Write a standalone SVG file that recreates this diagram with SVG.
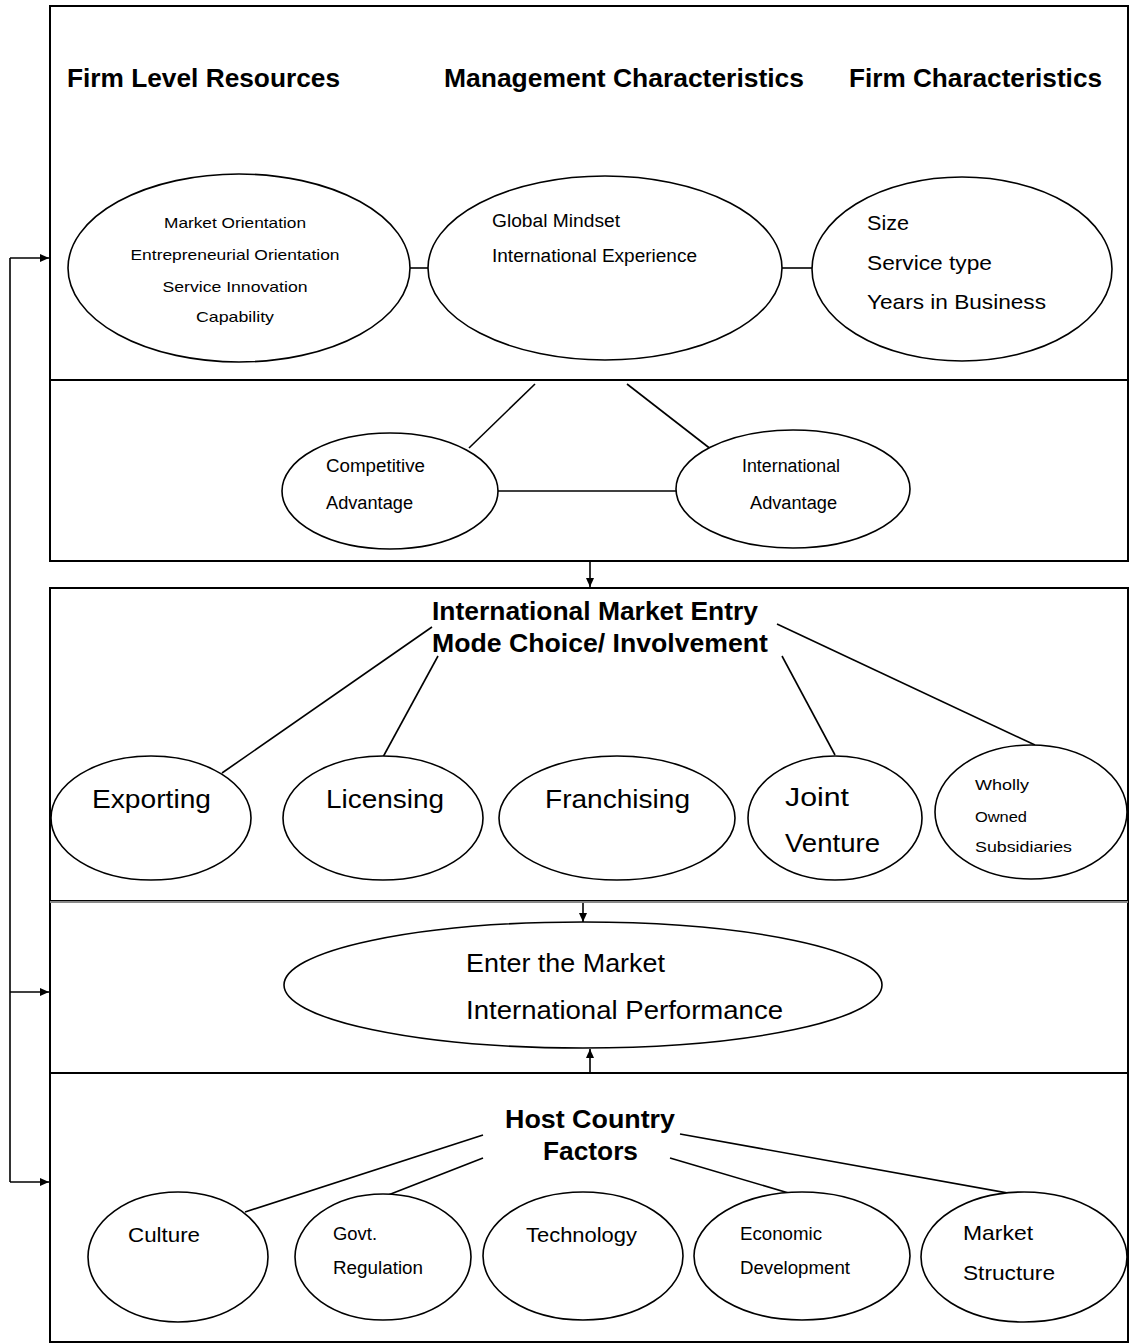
<svg xmlns="http://www.w3.org/2000/svg" width="1131" height="1344" viewBox="0 0 1131 1344">
<style>
.box{fill:none;stroke:#000;stroke-width:2}
.ell{fill:#fff;stroke:#000;stroke-width:1.6}
.ln{stroke:#000;stroke-width:1.6;fill:none}
text{font-family:"Liberation Sans",Arial,sans-serif;fill:#000}
.h{font-weight:bold;font-size:25px}
.s{font-size:15px}
.m{font-size:18px}
.l{font-size:21px}
.xl{font-size:26px}
</style>
<defs>
<marker id="ah" markerWidth="10" markerHeight="10" refX="9" refY="5" orient="auto" markerUnits="userSpaceOnUse">
<path d="M0,1 L9,5 L0,9 Z" fill="#000"/>
</marker>
</defs>
<rect width="1131" height="1344" fill="#fff"/>
<g id="panels">
<rect class="box" x="50" y="6" width="1078" height="374"/>
<rect class="box" x="50" y="380" width="1078" height="181"/>
<rect class="box" x="50" y="588" width="1078" height="313"/>
<rect class="box" x="50" y="901" width="1078" height="172"/>
<rect class="box" x="50" y="1073" width="1078" height="269"/>
<line x1="50" y1="902" x2="1128" y2="902" stroke="#888" stroke-width="2"/>
</g>
<g id="connectors">
<polyline class="ln" points="10,1182 10,258"/>
<line class="ln" x1="10" y1="258" x2="49" y2="258" marker-end="url(#ah)"/>
<line class="ln" x1="10" y1="992" x2="49" y2="992" marker-end="url(#ah)"/>
<line class="ln" x1="10" y1="1182" x2="49" y2="1182" marker-end="url(#ah)"/>
<line class="ln" x1="410" y1="268" x2="428" y2="268"/>
<line class="ln" x1="782" y1="268" x2="812" y2="268"/>
<line class="ln" x1="535" y1="384" x2="469" y2="448"/>
<line class="ln" x1="627" y1="384" x2="712" y2="450"/>
<line class="ln" x1="498" y1="491" x2="676" y2="491"/>
<line class="ln" x1="590" y1="561" x2="590" y2="587" marker-end="url(#ah)"/>
<line class="ln" x1="432" y1="627" x2="222" y2="773"/>
<line class="ln" x1="438" y1="656" x2="383" y2="757"/>
<line class="ln" x1="782" y1="656" x2="835" y2="755"/>
<line class="ln" x1="777" y1="624" x2="1035" y2="745"/>
<line class="ln" x1="583" y1="903" x2="583" y2="922" marker-end="url(#ah)"/>
<line class="ln" x1="590" y1="1073" x2="590" y2="1049" marker-end="url(#ah)"/>
<line class="ln" x1="483" y1="1135" x2="245" y2="1212"/>
<line class="ln" x1="483" y1="1158" x2="383" y2="1197"/>
<line class="ln" x1="670" y1="1158" x2="802" y2="1197"/>
<line class="ln" x1="680" y1="1134" x2="1030" y2="1197"/>
</g>
<g id="headers">
<text class="h" x="67" y="87" textLength="273" lengthAdjust="spacingAndGlyphs">Firm Level Resources</text>
<text class="h" x="444" y="87" textLength="360" lengthAdjust="spacingAndGlyphs">Management Characteristics</text>
<text class="h" x="849" y="87" textLength="253" lengthAdjust="spacingAndGlyphs">Firm Characteristics</text>
</g>
<g id="firm-level-resources">
<ellipse class="ell" cx="239" cy="268" rx="171" ry="94"/>
<text class="s" x="235" y="228" text-anchor="middle" textLength="142" lengthAdjust="spacingAndGlyphs">Market Orientation</text>
<text class="s" x="235" y="260" text-anchor="middle" textLength="209" lengthAdjust="spacingAndGlyphs">Entrepreneurial  Orientation</text>
<text class="s" x="235" y="292" text-anchor="middle" textLength="145" lengthAdjust="spacingAndGlyphs">Service Innovation</text>
<text class="s" x="235" y="322" text-anchor="middle" textLength="78" lengthAdjust="spacingAndGlyphs">Capability</text>
</g>
<g id="management-characteristics">
<ellipse class="ell" cx="605" cy="268" rx="177" ry="92"/>
<text class="m" x="492" y="227" textLength="128" lengthAdjust="spacingAndGlyphs">Global  Mindset</text>
<text class="m" x="492" y="262" textLength="205" lengthAdjust="spacingAndGlyphs">International   Experience</text>
</g>
<g id="firm-characteristics">
<ellipse class="ell" cx="962" cy="269" rx="150" ry="92"/>
<text class="l" x="867" y="230" textLength="42" lengthAdjust="spacingAndGlyphs">Size</text>
<text class="l" x="867" y="270" textLength="125" lengthAdjust="spacingAndGlyphs">Service type</text>
<text class="l" x="867" y="309" textLength="179" lengthAdjust="spacingAndGlyphs">Years in Business</text>
</g>
<g id="competitive-advantage">
<ellipse class="ell" cx="390" cy="491" rx="108" ry="58"/>
<text class="m" x="326" y="472" textLength="99" lengthAdjust="spacingAndGlyphs">Competitive</text>
<text class="m" x="326" y="509" textLength="87" lengthAdjust="spacingAndGlyphs">Advantage</text>
</g>
<g id="international-advantage">
<ellipse class="ell" cx="793" cy="489" rx="117" ry="59"/>
<text class="m" x="742" y="472" textLength="98" lengthAdjust="spacingAndGlyphs">International</text>
<text class="m" x="750" y="509" textLength="87" lengthAdjust="spacingAndGlyphs">Advantage</text>
</g>
<g id="entry-mode">
<text class="h" x="432" y="620" textLength="326" lengthAdjust="spacingAndGlyphs">International Market Entry</text>
<text class="h" x="432" y="652" textLength="336" lengthAdjust="spacingAndGlyphs">Mode Choice/ Involvement</text>
</g>
<g id="exporting">
<ellipse class="ell" cx="151" cy="818" rx="100" ry="62"/>
<text class="xl" x="92" y="808" textLength="119" lengthAdjust="spacingAndGlyphs">Exporting</text>
</g>
<g id="licensing">
<ellipse class="ell" cx="383" cy="818" rx="100" ry="62"/>
<text class="xl" x="326" y="808" textLength="118" lengthAdjust="spacingAndGlyphs">Licensing</text>
</g>
<g id="franchising">
<ellipse class="ell" cx="617" cy="818" rx="118" ry="62"/>
<text class="xl" x="545" y="808" textLength="145" lengthAdjust="spacingAndGlyphs">Franchising</text>
</g>
<g id="joint-venture">
<ellipse class="ell" cx="835" cy="818" rx="87" ry="62"/>
<text class="xl" x="785" y="806" textLength="64" lengthAdjust="spacingAndGlyphs">Joint</text>
<text class="xl" x="785" y="852" textLength="95" lengthAdjust="spacingAndGlyphs">Venture</text>
</g>
<g id="wholly-owned">
<ellipse class="ell" cx="1031" cy="812" rx="96" ry="67"/>
<text class="s" x="975" y="790" textLength="54" lengthAdjust="spacingAndGlyphs">Wholly</text>
<text class="s" x="975" y="822" textLength="52" lengthAdjust="spacingAndGlyphs">Owned</text>
<text class="s" x="975" y="852" textLength="97" lengthAdjust="spacingAndGlyphs">Subsidiaries</text>
</g>
<g id="enter-market">
<ellipse class="ell" cx="583" cy="985" rx="299" ry="63"/>
<text class="xl" x="466" y="972" textLength="199" lengthAdjust="spacingAndGlyphs">Enter the Market</text>
<text class="xl" x="466" y="1019" textLength="317" lengthAdjust="spacingAndGlyphs">International Performance</text>
</g>
<g id="host-country">
<text class="h" x="505" y="1128" textLength="170" lengthAdjust="spacingAndGlyphs">Host Country</text>
<text class="h" x="543" y="1160" textLength="95" lengthAdjust="spacingAndGlyphs">Factors</text>
</g>
<g id="culture">
<ellipse class="ell" cx="178" cy="1257" rx="90" ry="65"/>
<text class="l" x="128" y="1242" textLength="72" lengthAdjust="spacingAndGlyphs">Culture</text>
</g>
<g id="govt-regulation">
<ellipse class="ell" cx="383" cy="1257" rx="88" ry="63"/>
<text class="m" x="333" y="1240" textLength="44" lengthAdjust="spacingAndGlyphs">Govt.</text>
<text class="m" x="333" y="1274" textLength="90" lengthAdjust="spacingAndGlyphs">Regulation</text>
</g>
<g id="technology">
<ellipse class="ell" cx="583" cy="1256" rx="100" ry="64"/>
<text class="l" x="526" y="1242" textLength="111" lengthAdjust="spacingAndGlyphs">Technology</text>
</g>
<g id="economic-development">
<ellipse class="ell" cx="802" cy="1256" rx="108" ry="64"/>
<text class="m" x="740" y="1240" textLength="82" lengthAdjust="spacingAndGlyphs">Economic</text>
<text class="m" x="740" y="1274" textLength="110" lengthAdjust="spacingAndGlyphs">Development</text>
</g>
<g id="market-structure">
<ellipse class="ell" cx="1024" cy="1257" rx="103" ry="65"/>
<text class="l" x="963" y="1240" textLength="70" lengthAdjust="spacingAndGlyphs">Market</text>
<text class="l" x="963" y="1280" textLength="92" lengthAdjust="spacingAndGlyphs">Structure</text>
</g>
</svg>
